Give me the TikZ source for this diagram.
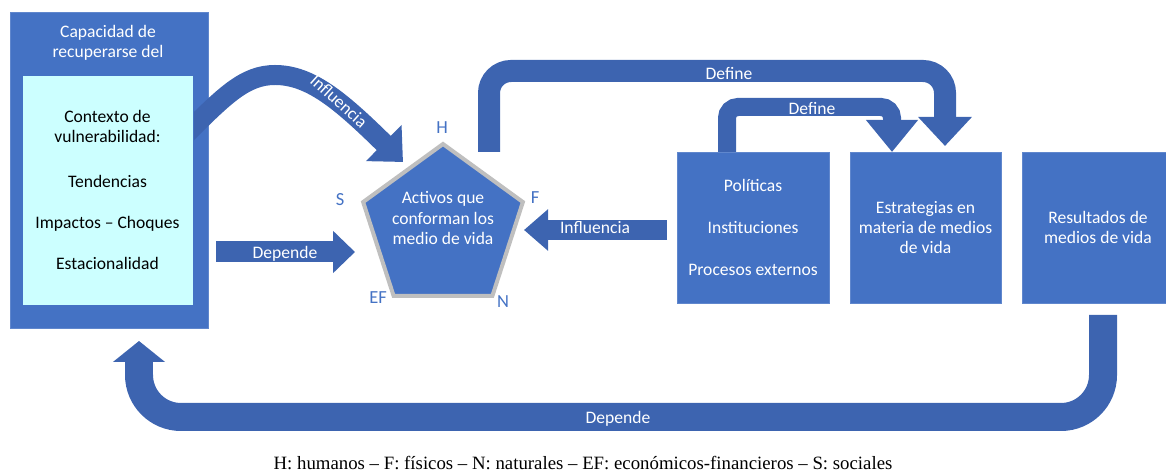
\documentclass[tikz,border=0pt]{standalone}
\usepackage{fontspec}
\setmainfont{Carlito}
\newfontfamily\notefont[Ligatures=TeX]{Liberation Serif}
\usepackage{xcolor}
\usepackage{tikz}
\usetikzlibrary{arrows.meta, shapes.geometric}

\definecolor{boxblue}{RGB}{68,114,196}
\definecolor{bandblue}{RGB}{61,100,176}
\definecolor{lightcyan}{RGB}{204,255,255}
\definecolor{pentagray}{RGB}{191,191,191}

\begin{document}
\begin{tikzpicture}[x=0.02cm, y=-0.02cm,
bluebox/.style={rectangle, draw=boxblue!85!white, fill=boxblue, thin, inner sep=0pt, text=white, align=center, font=\fontsize{10}{11.6}\selectfont},
cyanbox/.style={rectangle, draw=boxblue, fill=lightcyan, thin, inner sep=0pt, align=center, font=\fontsize{10}{11.6}\selectfont},
whitetext/.style={text=white, align=center, inner sep=0pt, font=\fontsize{10}{11.6}\selectfont},
cornerlabel/.style={text=boxblue, inner sep=0pt, font=\fontsize{10.5}{12}\selectfont},
band/.style={draw=bandblue, line cap=butt},
]
\useasboundingbox (0,0) rectangle (1166,475);

%Nodes
\node[bluebox, minimum width=3.96cm, minimum height=6.32cm] (capacidad) at (109,170) {};
\node[whitetext] (capacidadtxt) at (108,43) {Capacidad de\\recuperarse del};

\coordinate (infl1a) at (183,137);
\coordinate (infl1b) at (403,162);
\draw[band, line width=0.4cm, -{Triangle[length=0.54cm, width=0.98cm]}] (infl1a) .. controls (225,95) and (245,75) .. (275,75) .. controls (310,75) and (340,100) .. (infl1b);
\node[whitetext, rotate=-42] (lblinfl1) at (339,101) {Influencia};

\node[cyanbox, minimum width=3.42cm, minimum height=4.6cm] (contexto) at (107.5,190) {Contexto de\\vulnerabilidad:\\[13.8pt]Tendencias\\[11.6pt]Impactos – Choques\\[12.2pt]Estacionalidad};

\node[regular polygon, regular polygon sides=5, minimum size=3.36cm, draw=pentagray, line width=0.08cm, fill=boxblue, inner sep=0pt] (activos) at (443,228) {};
\node[whitetext] (activostxt) at (443,218) {Activos que\\conforman los\\medio de vida};
\node[cornerlabel] (h) at (442,128) {H};
\node[cornerlabel] (f) at (535,198) {F};
\node[cornerlabel] (s) at (340,200) {S};
\node[cornerlabel] (ef) at (378,298) {EF};
\node[cornerlabel] (n) at (503,302) {N};

\node[bluebox, minimum width=3.04cm, minimum height=3.02cm] (politicas) at (753,227.5) {Políticas\\[12.4pt]Instituciones\\[12.4pt]Procesos externos};
\node[bluebox, minimum width=3.02cm, minimum height=3.02cm] (estrategias) at (925.5,227.5) {Estrategias en\\materia de medios\\de vida};
\node[bluebox, minimum width=3.04cm, minimum height=3.02cm] (resultados) at (1098,227.5) {Resultados de\\medios de vida};

\node[font=\notefont\fontsize{10.7}{12}\selectfont, inner sep=0pt] (nota) at (583,463) {H: humanos – F: físicos – N: naturales – EF: económicos-financieros – S: sociales};

%Lines
\coordinate (dep1a) at (216,252);
\coordinate (dep1b) at (355,252);
\draw[band, line width=0.42cm, -{Triangle[length=0.44cm, width=0.82cm]}] (dep1a) -- (dep1b);
\node[whitetext] (lbldep1) at (285,254) {Depende};

\coordinate (infl2a) at (667,230);
\coordinate (infl2b) at (524,230);
\draw[band, line width=0.4cm, -{Triangle[length=0.48cm, width=0.8cm]}] (infl2a) -- (infl2b);
\node[whitetext] (lblinfl2) at (595,228) {Influencia};

\coordinate (def1a) at (489,152);
\coordinate (def1b) at (945,146);
\draw[band, line width=0.44cm, rounded corners=0.44cm, -{Triangle[length=0.58cm, width=1.04cm]}] (def1a) -- ++(0,-81) -| (def1b);
\node[whitetext] (lbldef1) at (729,73) {Define};

\coordinate (def2a) at (727,152);
\coordinate (def2b) at (892,152);
\draw[band, line width=0.36cm, rounded corners=0.22cm, -{Triangle[length=0.64cm, width=1.0cm]}] (def2a) -- ++(0,-45) -| (def2b);
\node[whitetext] (lbldef2) at (812,108) {Define};

\coordinate (dep2a) at (1103,315);
\coordinate (dep2b) at (139,341);
\draw[band, line width=0.56cm, rounded corners=0.84cm, -{Triangle[length=0.42cm, width=1.02cm]}] (dep2a) -- ++(0,102) -| (dep2b);
\node[whitetext] (lbldep2) at (618,419) {Depende};

\end{tikzpicture}
\end{document}
